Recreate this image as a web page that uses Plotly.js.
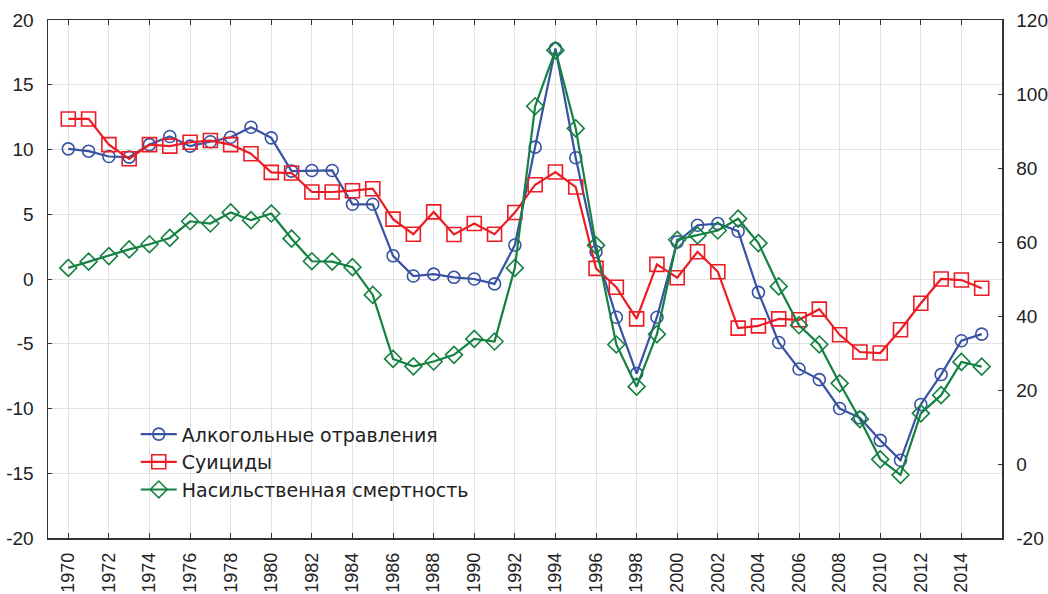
<!DOCTYPE html>
<html>
<head>
<meta charset="utf-8">
<script src="https://cdn.plot.ly/plotly-3.0.1.min.js"></script>
<style>html,body{margin:0;padding:0;background:#fff;}#chart{width:1048px;height:594px;}</style>
</head>
<body>
<div id="chart"></div>
<script>
const years = [1970,1971,1972,1973,1974,1975,1976,1977,1978,1979,1980,1981,1982,1983,1984,1985,1986,1987,1988,1989,1990,1991,1992,1993,1994,1995,1996,1997,1998,1999,2000,2001,2002,2003,2004,2005,2006,2007,2008,2009,2010,2011,2012,2013,2014,2015];

const alcoholPoisoning = [10.05,9.87,9.46,9.41,10.38,11.0,10.26,10.6,10.95,11.72,10.9,8.33,8.38,8.38,5.77,5.77,1.79,0.23,0.38,0.13,0.0,-0.38,2.62,10.18,17.8,9.36,2.1,-2.95,-7.31,-2.95,2.87,4.15,4.28,3.69,-1.03,-4.9,-6.95,-7.77,-10.0,-10.72,-12.46,-14.0,-9.69,-7.38,-4.77,-4.26];

const suicides = [12.36,12.36,10.38,9.28,10.38,10.26,10.56,10.69,10.38,9.67,8.23,8.18,6.72,6.72,6.82,6.97,4.62,3.46,5.18,3.44,4.28,3.46,5.13,7.28,8.26,7.1,0.82,-0.64,-3.08,1.13,0.1,2.1,0.56,-3.79,-3.62,-3.08,-3.15,-2.33,-4.31,-5.64,-5.72,-3.92,-1.87,0.0,-0.08,-0.72];

const violentMortality = [53.0,54.7,56.2,58.0,59.4,61.1,65.6,65.0,68.0,65.9,67.7,60.9,54.8,54.7,53.2,45.7,28.4,26.4,27.7,29.5,33.8,33.1,53.0,96.7,111.8,90.7,59.1,32.3,20.9,35.1,60.6,61.8,63.1,66.3,59.7,48.0,37.5,32.3,21.8,12.1,1.26,-2.97,13.7,18.6,27.6,26.3];

const seriesNames = ["Алкогольные отравления", "Суициды", "Насильственная смертность"];
const xTickVals = [1970,1972,1974,1976,1978,1980,1982,1984,1986,1988,1990,1992,1994,1996,1998,2000,2002,2004,2006,2008,2010,2012,2014];
const yLeftTicks = [-20,-15,-10,-5,0,5,10,15,20];
const yLeftTickText = ["-20","-15","-10","-5","0","5","10","15","20"];
const yRightTicks = [-20,0,20,40,60,80,100,120];
const yRightTickText = ["-20","0","20","40","60","80","100","120"];

const FONT = "Liberation Sans, Arial, sans-serif";
const LEGEND_FONT = "DejaVu Sans, Liberation Sans, sans-serif";

const traces = [
  {x: years, y: alcoholPoisoning, name: seriesNames[0], type: 'scatter', mode: 'lines+markers',
   line: {color: '#3852a4', width: 2.2},
   marker: {symbol: 'circle-open', size: 12, color: '#3852a4', line: {width: 1.6}}},
  {x: years, y: suicides, name: seriesNames[1], type: 'scatter', mode: 'lines+markers',
   line: {color: '#ec1c24', width: 2.2},
   marker: {symbol: 'square-open', size: 14, color: '#ec1c24', line: {width: 1.6}}},
  {x: years, y: violentMortality, name: seriesNames[2], type: 'scatter', mode: 'lines+markers', yaxis: 'y2',
   line: {color: '#138140', width: 2.2},
   marker: {symbol: 'diamond-open', size: 13, color: '#138140', line: {width: 1.6}}}
];

const layout = {
  width: 1048, height: 594,
  margin: {l: 48, r: 46, t: 19.5, b: 55.5, pad: 0},
  paper_bgcolor: '#fff', plot_bgcolor: '#fff',
  font: {family: FONT, size: 18, color: '#222'},
  showlegend: true,
  legend: {x: 0.092, y: 0.237, xanchor: 'left', yanchor: 'top', bgcolor: 'rgba(0,0,0,0)',
           font: {family: LEGEND_FONT, size: 19, color: '#222'}, tracegroupgap: 0, itemwidth: 36},
  xaxis: {range: [1969, 2016], tickmode: 'array', tickvals: xTickVals, tickangle: -90,
          ticks: 'inside', ticklen: 5, tickcolor: '#333', showgrid: true, gridcolor: '#e2e2e2', gridwidth: 1,
          showline: true, linecolor: '#333', linewidth: 1.5, mirror: 'ticks', zeroline: false,
          tickfont: {family: FONT, size: 18, color: '#222'}, ticklabelstandoff: 6},
  yaxis: {range: [-20, 20], tickmode: 'array', tickvals: yLeftTicks, ticktext: yLeftTickText,
          ticks: 'inside', ticklen: 4, tickcolor: '#333', showgrid: true, gridcolor: '#e2e2e2', gridwidth: 1,
          showline: true, linecolor: '#333', linewidth: 1.5, zeroline: false,
          tickfont: {family: FONT, size: 19, color: '#222'}, ticklabelstandoff: 9},
  yaxis2: {range: [-20, 120], overlaying: 'y', side: 'right', tickmode: 'array', tickvals: yRightTicks, ticktext: yRightTickText,
           ticks: 'inside', ticklen: 4, tickcolor: '#333', showgrid: false, zeroline: false,
           showline: true, linecolor: '#333', linewidth: 1.5,
           tickfont: {family: FONT, size: 19, color: '#222'}, ticklabelstandoff: 9}
};

Plotly.newPlot('chart', traces, layout, {displayModeBar: false, staticPlot: true});
</script>
</body>
</html>
